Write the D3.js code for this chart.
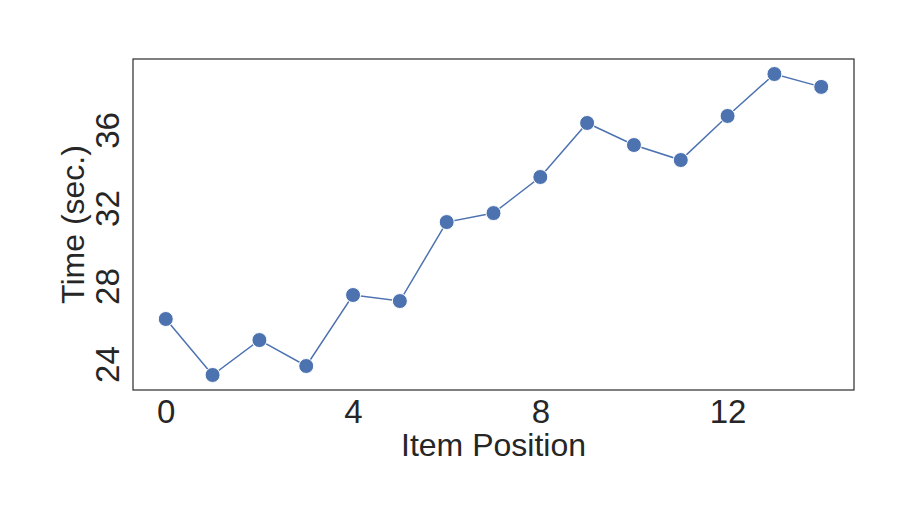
<!DOCTYPE html>
<html><head><meta charset="utf-8">
<script src="https://cdn.jsdelivr.net/npm/d3@7"></script>
<style>body{margin:0;background:#fff;} svg{display:block;} text{font-family:"Liberation Sans",Arial,sans-serif;fill:#262626;}</style>
</head><body>
<script>
const positions = [0,1,2,3,4,5,6,7,8,9,10,11,12,13,14];
const times = [26.31,23.44,25.23,23.9,27.54,27.23,31.28,31.74,33.59,36.36,35.23,34.46,36.72,38.87,38.21];
const xTicks = [0,4,8,12];
const yTicks = [24,28,32,36];
const xLabel = "Item Position";
const yLabel = "Time (sec.)";

const W=913,H=522;
const L=133,R=854,T=59,B=390;
const svg=d3.select("body").append("svg").attr("width",W).attr("height",H);
const x=d3.scaleLinear().domain([-0.7,14.7]).range([L,R]);
const y=d3.scaleLinear().domain([22.67,39.64]).range([B,T]);

const xa=svg.append("g").attr("transform",`translate(0,${B})`).call(d3.axisBottom(x).tickValues(xTicks).tickSize(0).tickPadding(10).tickFormat(d3.format("d")));
xa.select(".domain").remove();
xa.selectAll("text").attr("font-size",33).style("font-family","Liberation Sans, Arial, sans-serif").attr("fill","#262626");

const ya=svg.append("g").attr("transform",`translate(${L},0)`).call(d3.axisLeft(y).tickValues(yTicks).tickSize(0).tickFormat(d3.format("d")));
ya.select(".domain").remove();
ya.selectAll("text").attr("font-size",33).style("font-family","Liberation Sans, Arial, sans-serif").attr("fill","#262626")
  .attr("x",null).attr("dy",null).attr("text-anchor","middle")
  .attr("transform","translate(-14,0) rotate(-90)");

svg.append("rect").attr("x",L).attr("y",T).attr("width",R-L).attr("height",B-T).attr("fill","none").attr("stroke","#333").attr("stroke-width",1.25);

svg.append("path").datum(positions.map((p,i)=>[p,times[i]]))
  .attr("d",d3.line().x(d=>x(d[0])).y(d=>y(d[1])))
  .attr("fill","none").attr("stroke","#4c72b0").attr("stroke-width",1.5);
svg.selectAll("circle.pt").data(positions).enter().append("circle")
  .attr("cx",d=>x(d)).attr("cy",(d,i)=>y(times[i])).attr("r",7.5)
  .attr("fill","#4c72b0").attr("stroke","#fff").attr("stroke-width",1);

svg.append("text").attr("x",(L+R)/2).attr("y",456).attr("text-anchor","middle").attr("font-size",32).text(xLabel);
svg.append("text").attr("transform",`translate(84,${(T+B)/2}) rotate(-90)`).attr("text-anchor","middle").attr("font-size",32).text(yLabel);
</script>
</body></html>
